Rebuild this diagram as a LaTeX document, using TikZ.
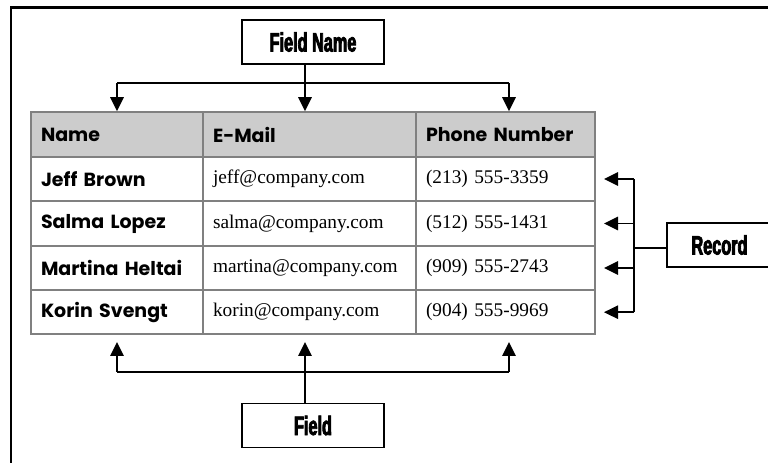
\documentclass[tikz,border=0pt]{standalone}
\usepackage{fontspec}
\usetikzlibrary{arrows.meta,calc}
\newfontfamily\gothic{Poppins}
\newfontfamily\tnr{Liberation Serif}
\newfontfamily\impact{Liberation Sans}[FakeStretch=0.61,FakeBold=3]
\definecolor{hdrgray}{HTML}{CCCCCC}
\definecolor{gridgray}{HTML}{808080}
\tikzset{
  cell/.style={draw=gridgray, line width=1.5pt, minimum height=33.4pt, inner xsep=7.5pt, inner ysep=0pt, align=left, anchor=center},
  c1/.style={cell, minimum width=129pt, text width=114pt},
  c2/.style={cell, minimum width=159.75pt, text width=144.75pt},
  c3/.style={cell, minimum width=134.25pt, text width=119.25pt},
  hdr/.style={fill=hdrgray, font=\gothic\bfseries\fontsize{14.25pt}{17pt}\selectfont},
  namec/.style={font=\gothic\bfseries\fontsize{14.25pt}{17pt}\selectfont},
  datac/.style={font=\tnr\fontsize{14.5pt}{17pt}\selectfont},
  label/.style={draw=black, line width=1pt, fill=white, minimum height=33pt, inner sep=0pt, font=\impact\bfseries\fontsize{20pt}{21pt}\selectfont},
  conn/.style={line width=1.3pt, black},
  arr/.style={conn, -{Triangle[length=10.5pt,width=10pt]}},
}
\begin{document}
\begin{tikzpicture}[x=0.75pt,y=-0.75pt]
\useasboundingbox (0,0) rectangle (768,463);
\clip (0,0) rectangle (768,463);
% outer frame
\draw[line width=2pt] (11,464) -- (11,7.8) -- (769,7.8);
% table
\node[c1,hdr] (h1) at (117,134.5) {Name};
\node[c2,hdr] (h2) at (309.5,134.5) {E-Mail};
\node[c3,hdr] (h3) at (505.5,134.5) {Phone Number};
\node[c1,namec] (n1) at (117,179) {Jeff Brown};
\node[c2,datac] (e1) at (309.5,179) {jeff@company.com};
\node[c3,datac] (p1) at (505.5,179) {(213) 555-3359};
\node[c1,namec] (n2) at (117,223.5) {Salma Lopez};
\node[c2,datac] (e2) at (309.5,223.5) {salma@company.com};
\node[c3,datac] (p2) at (505.5,223.5) {(512) 555-1431};
\node[c1,namec] (n3) at (117,268) {Martina Heltai};
\node[c2,datac] (e3) at (309.5,268) {martina@company.com};
\node[c3,datac] (p3) at (505.5,268) {(909) 555-2743};
\node[c1,namec] (n4) at (117,312.2) {Korin Svengt};
\node[c2,datac] (e4) at (309.5,312.2) {korin@company.com};
\node[c3,datac] (p4) at (505.5,312.2) {(904) 555-9969};
% labels
\node[label, minimum width=106.5pt] (fn) at (313,42) {Field Name};
\node[label, minimum width=106.5pt] (fd) at (313,425.5) {Field};
\node[label, minimum width=78.75pt] (rc) at (719.5,245) {Record};
% column arrow positions
\coordinate (xa) at (117,0);
\coordinate (xb) at (305,0);
\coordinate (xc) at (509,0);
% field name connectors
\coordinate (tl) at (0,83);
\draw[conn] (xa |- tl) -- (xc |- tl);
\draw[arr] (fn.south -| xb) -- (h2.north -| xb);
\draw[arr] (xa |- tl) -- (h1.north -| xa);
\draw[arr] (xc |- tl) -- (h3.north -| xc);
% field connectors
\coordinate (bl) at (0,372);
\coordinate (bt) at (0,342);
\draw[conn] (xa |- bl) -- (xc |- bl);
\draw[arr] (fd.north -| xb) -- (xb |- bt);
\draw[arr] (xa |- bl) -- (xa |- bt);
\draw[arr] (xc |- bl) -- (xc |- bt);
% record connectors
\coordinate (rv) at (634,0);
\draw[conn] (rc.west |- 0,248) -- (rv |- 0,248);
\draw[conn] (rv |- p1.east) -- (rv |- p4.east);
\draw[arr] (rv |- p1.east) -- ([xshift=6pt]p1.east);
\draw[arr] (rv |- p2.east) -- ([xshift=6pt]p2.east);
\draw[arr] (rv |- p3.east) -- ([xshift=6pt]p3.east);
\draw[arr] (rv |- p4.east) -- ([xshift=6pt]p4.east);
\end{tikzpicture}
\end{document}
